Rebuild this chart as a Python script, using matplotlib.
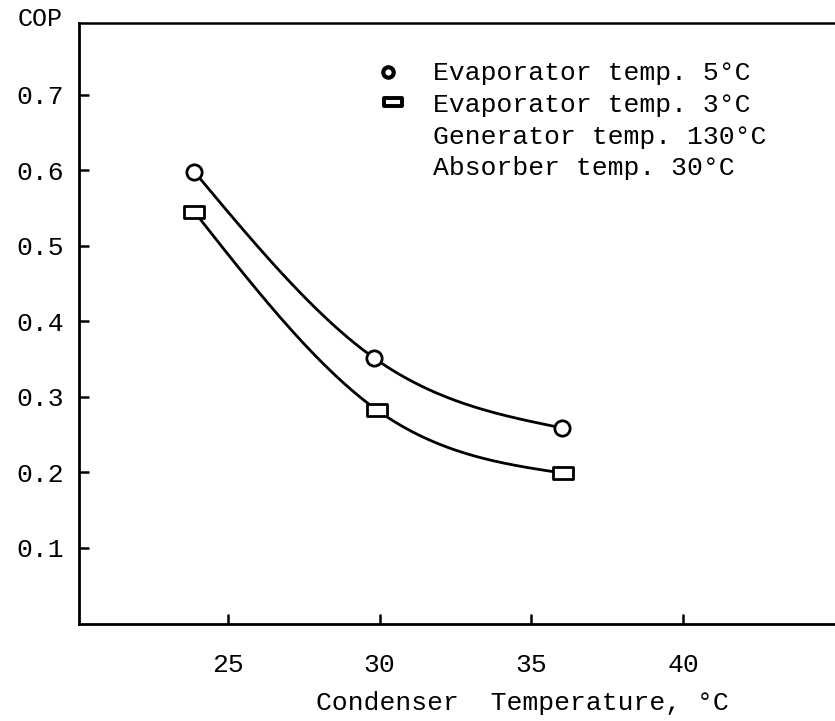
import numpy as np
import matplotlib
matplotlib.use('Agg')
import matplotlib.pyplot as plt
from matplotlib.path import Path

# data
cond_temp_evap5 = [23.9, 29.8, 36.0]
cop_evap5 = [0.598, 0.352, 0.259]
cond_temp_evap3 = [23.9, 29.9, 36.05]
cop_evap3 = [0.545, 0.283, 0.199]

x_ticks = [25, 30, 35, 40]
y_ticks = [0.1, 0.2, 0.3, 0.4, 0.5, 0.6, 0.7]
y_tick_labels = ['0.1', '0.2', '0.3', '0.4', '0.5', '0.6', '0.7']
legend_text = ['Evaporator temp. 5\u00b0C',
               'Evaporator temp. 3\u00b0C',
               'Generator temp. 130\u00b0C',
               'Absorber temp. 30\u00b0C']


def natural_spline(x, y, n=200):
    # smooth curve through the measured points (natural cubic spline)
    x = np.asarray(x, float)
    y = np.asarray(y, float)
    k = len(x)
    h = np.diff(x)
    A = np.zeros((k, k))
    b = np.zeros(k)
    A[0, 0] = A[-1, -1] = 1
    for i in range(1, k - 1):
        A[i, i - 1] = h[i - 1]
        A[i, i] = 2 * (h[i - 1] + h[i])
        A[i, i + 1] = h[i]
        b[i] = 6 * ((y[i + 1] - y[i]) / h[i] - (y[i] - y[i - 1]) / h[i - 1])
    M = np.linalg.solve(A, b)
    xs = np.linspace(x[0], x[-1], n)
    ys = np.empty_like(xs)
    for j, xv in enumerate(xs):
        i = min(np.searchsorted(x, xv, side='right') - 1, k - 2)
        hi = h[i]
        a = x[i + 1] - xv
        c = xv - x[i]
        ys[j] = (M[i] * a ** 3 / (6 * hi) + M[i + 1] * c ** 3 / (6 * hi)
                 + (y[i] / hi - M[i] * hi / 6) * a
                 + (y[i + 1] / hi - M[i + 1] * hi / 6) * c)
    return xs, ys


plt.rcParams['font.family'] = ['Liberation Mono', 'DejaVu Sans Mono']
plt.rcParams['font.size'] = 19

rect = Path([(-1.3, -0.85), (1.3, -0.85), (1.3, 0.85), (-1.3, 0.85), (-1.3, -0.85)],
            [Path.MOVETO, Path.LINETO, Path.LINETO, Path.LINETO, Path.CLOSEPOLY])
flat_rect = Path([(-1.6, -0.75), (1.6, -0.75), (1.6, 0.75), (-1.6, 0.75), (-1.6, -0.75)],
                 [Path.MOVETO, Path.LINETO, Path.LINETO, Path.LINETO, Path.CLOSEPOLY])

fig = plt.figure(figsize=(8.35, 7.21), dpi=100)
ax = fig.add_axes([79 / 835, 1 - 623.5 / 721, 1 - 79 / 835, (623.5 - 23) / 721])

# curves
xs, ys = natural_spline(cond_temp_evap5, cop_evap5)
ax.plot(xs, ys, color='black', lw=2.0)
xs, ys = natural_spline(cond_temp_evap3, cop_evap3)
ax.plot(xs, ys, color='black', lw=2.0)

# markers
ax.plot(cond_temp_evap5, cop_evap5, ls='none', marker='o', ms=11,
        mfc='white', mec='black', mew=2.0, zorder=3)
ax.plot(cond_temp_evap3, cop_evap3, ls='none', marker=rect, ms=14,
        mfc='white', mec='black', mew=2.0, zorder=3)

ax.set_xlim(20.1, 45)
ax.set_ylim(0, 0.795)
ax.set_xticks(x_ticks)
ax.set_yticks(y_ticks)
ax.set_yticklabels(y_tick_labels)
ax.tick_params(axis='both', direction='in', length=7, width=1.8)
ax.tick_params(axis='x', pad=21)
ax.tick_params(axis='y', pad=11)

ax.spines['right'].set_visible(False)
for s in ['left', 'bottom']:
    ax.spines[s].set_linewidth(2)
ax.spines['top'].set_linewidth(1.8)

# axis labels
fig.text(18 / 835, 1 - 19 / 721, 'COP', ha='left', va='center', fontsize=18)
fig.text(522 / 835, 1 - 703 / 721, 'Condenser  Temperature, \u00b0C',
         ha='center', va='center')

# legend block
text_x = 433 / 835
rows_y = [73, 105, 137, 168]
for t, yy in zip(legend_text, rows_y):
    fig.text(text_x, 1 - yy / 721, t, ha='left', va='center')
fig.lines.append(plt.Line2D([388 / 835], [1 - 72 / 721], transform=fig.transFigure,
                            marker='o', ms=7.5, mfc='white', mec='black', mew=3, ls='none'))
fig.lines.append(plt.Line2D([393 / 835], [1 - 102 / 721], transform=fig.transFigure,
                            marker=flat_rect, ms=13, mfc='white', mec='black', mew=2.8, ls='none'))

fig.savefig('out.png', dpi=100, facecolor='white')
